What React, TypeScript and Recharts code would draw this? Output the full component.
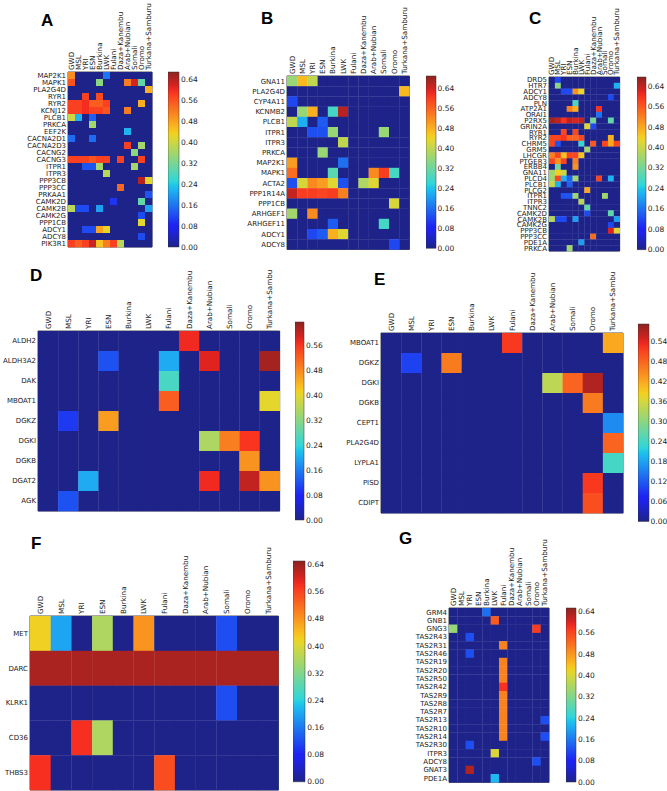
import React from "react";
import { ScatterChart, Scatter, XAxis, YAxis, BarChart, Bar, ReferenceArea } from "recharts";

const populations = ["GWD", "MSL", "YRI", "ESN", "Burkina", "LWK", "Fulani", "Daza+Kanembu", "Arab+Nubian", "Somali", "Oromo", "Turkana+Samburu"];
const populationsShort = ["GWD", "MSL", "YRI", "ESN", "Burkina", "LWK", "Fulani", "Daza+Kanembu", "Arab+Nubian", "Somali", "Oromo", "Turkana+Sambu"];

const aGenes = ["MAP2K1", "MAPK1", "PLA2G4D", "RYR1", "RYR2", "KCNJ12", "PLCB1", "PRKCA", "EEF2K", "CACNA2D1", "CACNA2D3", "CACNG2", "CACNG3", "ITPR1", "ITPR3", "PPP3CB", "PPP3CC", "PRKAA1", "CAMK2D", "CAMK2B", "CAMK2G", "PPP1CB", "ADCY1", "ADCY8", "PIK3R1"];
const aValues = [
  [0.50, 0, 0, 0, 0, 0.16, 0, 0, 0, 0, 0, 0],
  [0.56, 0, 0, 0, 0.34, 0, 0, 0, 0.52, 0.62, 0.30, 0],
  [0, 0, 0, 0, 0, 0, 0, 0, 0, 0, 0, 0.47],
  [0, 0, 0.58, 0, 0.57, 0, 0, 0, 0, 0, 0, 0],
  [0.58, 0.58, 0.60, 0.55, 0.55, 0.58, 0, 0, 0, 0, 0.47, 0],
  [0.58, 0.58, 0.60, 0.58, 0.58, 0.56, 0, 0, 0.52, 0, 0, 0],
  [0.40, 0.22, 0, 0.14, 0, 0, 0, 0, 0, 0, 0, 0],
  [0, 0, 0, 0.36, 0, 0, 0, 0, 0, 0, 0, 0],
  [0, 0, 0, 0, 0, 0, 0, 0, 0.22, 0, 0, 0],
  [0.15, 0, 0, 0.15, 0, 0, 0, 0, 0, 0, 0, 0],
  [0, 0, 0, 0, 0, 0, 0, 0, 0.58, 0, 0.36, 0],
  [0, 0, 0, 0, 0, 0, 0, 0, 0, 0.34, 0, 0],
  [0.58, 0.58, 0.58, 0.56, 0.58, 0.58, 0, 0.58, 0, 0, 0.58, 0],
  [0, 0, 0.13, 0.13, 0.36, 0, 0, 0, 0, 0.36, 0, 0],
  [0, 0, 0, 0, 0, 0.38, 0, 0, 0, 0, 0, 0],
  [0, 0, 0, 0, 0, 0, 0, 0, 0, 0, 0.64, 0.42],
  [0, 0, 0, 0, 0, 0, 0, 0.54, 0, 0, 0, 0],
  [0, 0, 0, 0, 0, 0, 0, 0, 0, 0, 0, 0.13],
  [0, 0, 0, 0, 0, 0, 0.10, 0, 0, 0, 0.30, 0],
  [0.38, 0.12, 0.12, 0, 0.20, 0, 0, 0, 0, 0, 0, 0.20],
  [0, 0, 0, 0, 0, 0, 0, 0, 0, 0, 0.12, 0],
  [0, 0, 0, 0, 0, 0, 0, 0, 0, 0, 0.42, 0],
  [0, 0, 0.12, 0.12, 0.48, 0.43, 0, 0, 0, 0, 0, 0],
  [0, 0, 0, 0, 0, 0, 0, 0, 0, 0, 0.12, 0],
  [0.58, 0.55, 0.58, 0.63, 0.45, 0.52, 0.58, 0.38, 0, 0, 0, 0],
];

const bGenes = ["GNA11", "PLA2G4D", "CYP4A11", "KCNMB2", "PLCB1", "ITPR1", "ITPR3", "PRKCA", "MAP2K1", "MAPK1", "ACTA2", "PPP1R14A", "PPP1CB", "ARHGEF1", "ARHGEF11", "ADCY1", "ADCY8"];
const bValues = [
  [0.36, 0.47, 0.40, 0, 0, 0, 0, 0, 0, 0, 0, 0],
  [0, 0, 0, 0, 0, 0, 0, 0, 0, 0, 0, 0.47],
  [0.12, 0, 0, 0, 0, 0, 0, 0, 0, 0, 0, 0],
  [0, 0.36, 0.48, 0, 0.28, 0.66, 0, 0, 0, 0, 0, 0],
  [0.40, 0.22, 0, 0.14, 0, 0, 0, 0, 0, 0, 0, 0],
  [0, 0, 0.13, 0.13, 0.36, 0, 0, 0, 0, 0.36, 0, 0],
  [0, 0, 0, 0, 0, 0.40, 0, 0, 0, 0, 0, 0],
  [0, 0, 0, 0.36, 0, 0, 0, 0, 0, 0, 0, 0],
  [0.50, 0, 0, 0, 0, 0.16, 0, 0, 0, 0, 0, 0],
  [0.55, 0, 0, 0, 0.30, 0, 0, 0, 0.52, 0.60, 0.28, 0],
  [0.13, 0.42, 0.52, 0.50, 0.43, 0.13, 0, 0.38, 0.43, 0, 0, 0],
  [0.65, 0.60, 0.60, 0.59, 0.60, 0.53, 0, 0, 0, 0, 0, 0],
  [0, 0, 0, 0, 0, 0, 0, 0, 0, 0, 0.42, 0],
  [0.37, 0, 0.52, 0, 0, 0, 0, 0, 0, 0, 0, 0],
  [0, 0, 0, 0, 0.14, 0, 0, 0, 0, 0.28, 0, 0],
  [0, 0, 0.12, 0.14, 0.48, 0.43, 0, 0, 0, 0, 0, 0],
  [0, 0, 0, 0, 0, 0, 0, 0, 0, 0, 0.12, 0],
];

const cGenes = ["DRD5", "HTR7", "ADCY1", "ADCY8", "PLN", "ATP2A1", "ORAI1", "P2RX5", "GRIN2A", "RYR1", "RYR2", "CHRM5", "GRM5", "LHCGR", "PTGER3", "ERBB4", "GNA11", "PLCD4", "PLCB1", "PLCG2", "ITPR1", "ITPR3", "TNNC2", "CAMK2D", "CAMK2B", "CAMK2G", "PPP3CB", "PPP3CC", "PDE1A", "PRKCA"];
const cValues = [
  [0, 0.12, 0, 0, 0, 0, 0, 0, 0, 0, 0, 0],
  [0, 0.34, 0, 0, 0, 0, 0, 0, 0, 0, 0, 0.22],
  [0, 0, 0.12, 0.12, 0.50, 0.43, 0, 0, 0, 0, 0, 0],
  [0, 0, 0, 0, 0, 0, 0, 0, 0, 0, 0.12, 0],
  [0, 0, 0, 0, 0.28, 0, 0, 0, 0, 0, 0, 0],
  [0, 0, 0, 0.52, 0.47, 0, 0, 0, 0.60, 0, 0, 0],
  [0, 0, 0, 0, 0, 0, 0, 0, 0.16, 0, 0, 0],
  [0.66, 0.64, 0.60, 0.64, 0.62, 0.64, 0, 0.32, 0, 0, 0.30, 0],
  [0, 0, 0, 0, 0, 0, 0.42, 0.12, 0, 0, 0, 0],
  [0, 0, 0.58, 0, 0.58, 0, 0, 0, 0, 0, 0, 0],
  [0.58, 0.58, 0.60, 0.55, 0.55, 0.58, 0, 0, 0, 0, 0.47, 0],
  [0.58, 0.13, 0, 0, 0, 0.26, 0, 0.56, 0, 0.58, 0.48, 0.58],
  [0, 0, 0, 0, 0, 0, 0.36, 0, 0, 0, 0, 0],
  [0.52, 0.58, 0.45, 0.58, 0.58, 0.45, 0, 0, 0, 0, 0, 0],
  [0.58, 0.50, 0.58, 0, 0.52, 0, 0, 0, 0, 0, 0, 0],
  [0, 0.32, 0, 0, 0.50, 0, 0, 0, 0, 0, 0, 0],
  [0.36, 0.44, 0.40, 0, 0, 0, 0, 0, 0, 0, 0, 0],
  [0.36, 0.58, 0.22, 0.14, 0.36, 0, 0, 0, 0.58, 0, 0.22, 0],
  [0.40, 0.22, 0, 0.14, 0, 0, 0, 0, 0, 0, 0, 0],
  [0, 0, 0, 0, 0, 0, 0.48, 0, 0, 0, 0, 0],
  [0, 0, 0.13, 0.13, 0.36, 0, 0, 0, 0, 0.36, 0, 0],
  [0, 0, 0, 0, 0, 0.38, 0, 0, 0, 0, 0, 0],
  [0, 0, 0, 0, 0, 0, 0.30, 0, 0, 0, 0, 0],
  [0, 0, 0, 0, 0, 0, 0.12, 0, 0, 0, 0.30, 0],
  [0.38, 0.12, 0.12, 0, 0.20, 0, 0, 0, 0, 0, 0, 0.20],
  [0, 0, 0, 0, 0, 0, 0, 0, 0, 0, 0.12, 0],
  [0, 0, 0, 0, 0, 0, 0, 0, 0, 0, 0.62, 0.42],
  [0, 0, 0, 0, 0, 0, 0, 0.54, 0, 0, 0, 0],
  [0, 0, 0, 0, 0, 0.20, 0, 0, 0, 0, 0, 0],
  [0, 0, 0, 0.36, 0, 0, 0, 0, 0, 0, 0, 0],
];

const dGenes = ["ALDH2", "ALDH3A2", "DAK", "MBOAT1", "DGKZ", "DGKI", "DGKB", "DGAT2", "AGK"];
const dValues = [
  [0, 0, 0, 0, 0, 0, 0, 0.57, 0, 0, 0, 0],
  [0, 0, 0, 0.12, 0, 0, 0.20, 0, 0.58, 0, 0, 0.62],
  [0, 0, 0, 0, 0, 0, 0.26, 0, 0, 0, 0, 0],
  [0, 0, 0, 0, 0, 0, 0.52, 0, 0, 0, 0, 0.40],
  [0, 0.10, 0, 0.46, 0, 0, 0, 0, 0, 0, 0, 0],
  [0, 0, 0, 0, 0, 0, 0, 0, 0.35, 0.49, 0.56, 0],
  [0, 0, 0, 0, 0, 0, 0, 0, 0, 0, 0.47, 0],
  [0, 0, 0.20, 0, 0, 0, 0, 0, 0.57, 0, 0.60, 0.47],
  [0, 0.12, 0, 0, 0, 0, 0, 0, 0, 0, 0, 0],
];

const eGenes = ["MBOAT1", "DGKZ", "DGKI", "DGKB", "CEPT1", "PLA2G4D", "LYPLA1", "PISD", "CDIPT"];
const eValues = [
  [0, 0, 0, 0, 0, 0, 0.52, 0, 0, 0, 0, 0.42],
  [0, 0.10, 0, 0.46, 0, 0, 0, 0, 0, 0, 0, 0],
  [0, 0, 0, 0, 0, 0, 0, 0, 0.34, 0.48, 0.57, 0],
  [0, 0, 0, 0, 0, 0, 0, 0, 0, 0, 0.46, 0],
  [0, 0, 0, 0, 0, 0, 0, 0, 0, 0, 0, 0.16],
  [0, 0, 0, 0, 0, 0, 0, 0, 0, 0, 0, 0.48],
  [0, 0, 0, 0, 0, 0, 0, 0, 0, 0, 0, 0.24],
  [0, 0, 0, 0, 0, 0, 0, 0, 0, 0, 0.52, 0],
  [0, 0, 0, 0, 0, 0, 0, 0, 0, 0, 0.50, 0],
];

const fGenes = ["MET", "DARC", "KLRK1", "CD36", "THBS3"];
const fValues = [
  [0.42, 0.20, 0, 0.36, 0, 0.48, 0, 0, 0, 0.12, 0, 0],
  [0.63, 0.63, 0.63, 0.63, 0.63, 0.63, 0.63, 0.63, 0.63, 0.63, 0.63, 0.63],
  [0, 0, 0, 0, 0, 0, 0, 0, 0, 0.12, 0, 0],
  [0, 0, 0.58, 0.36, 0, 0, 0, 0, 0, 0, 0, 0],
  [0.58, 0, 0, 0, 0, 0, 0.55, 0, 0, 0, 0, 0],
];

const gGenes = ["GRM4", "GNB1", "GNG3", "TAS2R43", "TAS2R31", "TAS2R46", "TAS2R19", "TAS2R20", "TAS2R50", "TAS2R42", "TAS2R9", "TAS2R8", "TAS2R7", "TAS2R13", "TAS2R10", "TAS2R14", "TAS2R30", "ITPR3", "ADCY8", "GNAT3", "PDE1A"];
const gValues = [
  [0, 0, 0, 0, 0.15, 0, 0, 0, 0, 0, 0, 0],
  [0, 0, 0, 0, 0, 0.54, 0, 0, 0, 0, 0, 0],
  [0.34, 0, 0, 0, 0, 0, 0, 0, 0, 0, 0.57, 0],
  [0, 0, 0.12, 0, 0, 0, 0, 0, 0, 0, 0, 0],
  [0, 0, 0, 0, 0, 0, 0.50, 0, 0, 0, 0, 0],
  [0, 0, 0.12, 0, 0, 0, 0, 0, 0, 0, 0, 0],
  [0, 0, 0, 0, 0, 0, 0.50, 0, 0, 0, 0, 0],
  [0, 0, 0, 0, 0, 0, 0.50, 0, 0, 0, 0, 0],
  [0, 0, 0, 0, 0, 0, 0.50, 0, 0, 0, 0, 0],
  [0, 0, 0, 0, 0, 0, 0.58, 0, 0, 0, 0, 0],
  [0, 0, 0, 0, 0, 0, 0.50, 0, 0, 0, 0, 0],
  [0, 0, 0, 0, 0, 0, 0.50, 0, 0, 0, 0, 0],
  [0, 0, 0, 0, 0, 0, 0.50, 0, 0, 0, 0, 0],
  [0, 0, 0, 0, 0, 0, 0.50, 0, 0, 0, 0, 0.12],
  [0, 0, 0, 0, 0, 0, 0.50, 0, 0, 0, 0, 0],
  [0, 0, 0, 0, 0, 0, 0.50, 0, 0, 0, 0, 0.12],
  [0, 0, 0.12, 0, 0, 0, 0, 0, 0, 0, 0, 0],
  [0, 0, 0, 0, 0, 0.40, 0, 0, 0, 0, 0, 0],
  [0, 0, 0, 0, 0, 0, 0, 0, 0, 0, 0.12, 0],
  [0, 0, 0.63, 0, 0, 0, 0, 0, 0, 0, 0, 0],
  [0, 0, 0, 0, 0, 0.22, 0, 0, 0, 0, 0, 0],
];

// colour bar ranges and tick labels
const aMax = 0.67, bMax = 0.689, cMax = 0.675, dMax = 0.634, eMax = 0.592, fMax = 0.65, gMax = 0.653;
const ticks064 = [0, 0.08, 0.16, 0.24, 0.32, 0.4, 0.48, 0.56, 0.64];
const ticks056 = [0, 0.08, 0.16, 0.24, 0.32, 0.4, 0.48, 0.56];
const ticks054 = [0, 0.06, 0.12, 0.18, 0.24, 0.3, 0.36, 0.42, 0.48, 0.54];

const FONT = "'DejaVu Sans', sans-serif";
const INK = "#222";

// matplotlib "jet" segments
const JET_R = [[0, 0], [0.35, 0], [0.66, 1], [0.89, 1], [1, 0.5]];
const JET_G = [[0, 0], [0.125, 0], [0.375, 1], [0.64, 1], [0.91, 0], [1, 0]];
const JET_B = [[0, 0.5], [0.11, 1], [0.34, 1], [0.65, 0], [1, 0]];

function seg(t: number, pts: number[][]) {
  for (let i = 1; i < pts.length; i++) {
    if (t <= pts[i][0]) {
      const [x0, y0] = pts[i - 1];
      const [x1, y1] = pts[i];
      return y0 + ((t - x0) / (x1 - x0)) * (y1 - y0);
    }
  }
  return pts[pts.length - 1][1];
}

// slightly muted, like the printed figure
function jet(t: number) {
  const tt = Math.max(0, Math.min(1, t));
  const r = Math.round(30 + 0.86 * 255 * seg(tt, JET_R));
  const g = Math.round(35 + 0.7 * 255 * seg(tt, JET_G));
  const b = Math.round(32 + 0.82 * 255 * seg(tt, JET_B));
  return `rgb(${r},${g},${b})`;
}

const gradientSteps = Array.from({ length: 41 }, (_, i) => i / 40);

type HeatProps = {
  x: number;
  y: number;
  cw: number;
  ch: number;
  genes: string[];
  cols: string[];
  values: number[][];
  vmax: number;
  labelW: number;
  rowFont?: number;
  colFont?: number;
};

function Heatmap({ x, y, cw, ch, genes, cols, values, vmax, labelW, rowFont = 7, colFont = 7.2 }: HeatProps) {
  const labelH = 80;
  const pw = cols.length * cw;
  const ph = genes.length * ch;
  const data = values.flatMap((row, r) => row.map((v, c) => ({ c, r, v })));
  return (
    <div style={{ position: "absolute", left: x - labelW, top: y - labelH }}>
      <ScatterChart
        width={labelW + pw + 2}
        height={labelH + ph + 2}
        margin={{ top: 0, right: 2, bottom: 2, left: 0 }}
      >
        <XAxis
          type="number"
          dataKey="c"
          domain={[-0.5, cols.length - 0.5]}
          ticks={cols.map((_, i) => i)}
          orientation="top"
          height={labelH}
          interval={0}
          axisLine={false}
          tickLine={false}
          tick={(p: any) => (
            <text
              transform={`translate(${p.x},${labelH - 2}) rotate(-90)`}
              dy="0.35em"
              fontSize={colFont}
              fill={INK}
              fontFamily={FONT}
            >
              {cols[p.payload.value]}
            </text>
          )}
        />
        <YAxis
          type="number"
          dataKey="r"
          domain={[-0.5, genes.length - 0.5]}
          reversed
          ticks={genes.map((_, i) => i)}
          width={labelW}
          interval={0}
          axisLine={false}
          tickLine={false}
          tick={(p: any) => (
            <text
              x={labelW - 2}
              y={p.y}
              dy="0.35em"
              textAnchor="end"
              fontSize={rowFont}
              fill={INK}
              fontFamily={FONT}
            >
              {genes[p.payload.value]}
            </text>
          )}
        />
        <Scatter
          data={data}
          isAnimationActive={false}
          shape={(p: any) => (
            <rect
              x={p.cx - cw / 2}
              y={p.cy - ch / 2}
              width={cw + 0.3}
              height={ch + 0.3}
              fill={jet(p.payload.v / vmax)}
            />
          )}
        />
        <ReferenceArea
          x1={-0.5}
          x2={cols.length - 0.5}
          y1={-0.5}
          y2={genes.length - 0.5}
          fill="none"
          fillOpacity={0}
          stroke="#222"
          strokeWidth={0.8}
          ifOverflow="visible"
        />
      </ScatterChart>
    </div>
  );
}

function ColorBar({ id, x, y, w, h, vmax, ticks }: { id: string; x: number; y: number; w: number; h: number; vmax: number; ticks: number[] }) {
  const pad = 6;
  return (
    <div style={{ position: "absolute", left: x, top: y - pad }}>
      <BarChart
        width={w + 34}
        height={h + 2 * pad}
        data={[{ k: "cb", v: vmax }]}
        margin={{ top: pad, right: 0, bottom: pad, left: 0 }}
        barCategoryGap={0}
      >
        <defs>
          <linearGradient id={id} x1="0" y1="1" x2="0" y2="0">
            {gradientSteps.map((t) => (
              <stop key={t} offset={t} stopColor={jet(t)} />
            ))}
          </linearGradient>
        </defs>
        <XAxis dataKey="k" hide />
        <YAxis
          type="number"
          orientation="right"
          width={34}
          domain={[0, vmax]}
          ticks={ticks}
          interval={0}
          axisLine={false}
          tickLine={false}
          tickSize={0}
          tickMargin={2}
          tick={{ fontSize: 7.5, fill: INK, fontFamily: FONT }}
          tickFormatter={(t: number) => t.toFixed(2)}
        />
        <Bar dataKey="v" fill={`url(#${id})`} stroke="#333" strokeWidth={0.5} isAnimationActive={false} />
      </BarChart>
    </div>
  );
}

function PanelLetter({ x, y, children }: { x: number; y: number; children: string }) {
  return (
    <div
      style={{
        position: "absolute",
        left: x,
        top: y,
        fontFamily: "'Liberation Sans', Arial, sans-serif",
        fontWeight: "bold",
        fontSize: 17,
        lineHeight: "17px",
        color: "#000",
      }}
    >
      {children}
    </div>
  );
}

export default function App() {
  return (
    <div
      style={{
        position: "absolute",
        left: 0,
        top: 0,
        width: 667,
        height: 791,
        background: "#fff",
        overflow: "hidden",
        fontFamily: FONT,
      }}
    >
      <PanelLetter x={41} y={12}>A</PanelLetter>
      <PanelLetter x={261} y={10}>B</PanelLetter>
      <PanelLetter x={529} y={10}>C</PanelLetter>
      <PanelLetter x={30} y={267}>D</PanelLetter>
      <PanelLetter x={374} y={271}>E</PanelLetter>
      <PanelLetter x={31} y={535}>F</PanelLetter>
      <PanelLetter x={399} y={530}>G</PanelLetter>

      <Heatmap x={68.3} y={72} cw={7} ch={7} genes={aGenes} cols={populations} values={aValues} vmax={aMax} labelW={60} />
      <ColorBar id="cbA" x={168} y={72} w={11} h={175} vmax={aMax} ticks={ticks064} />

      <Heatmap x={286.7} y={76} cw={10.2} ch={10.2} genes={bGenes} cols={populations} values={bValues} vmax={bMax} labelW={60} />
      <ColorBar id="cbB" x={425.7} y={76} w={9.5} h={172.3} vmax={bMax} ticks={ticks064} />

      <Heatmap x={549.3} y={77.3} cw={5.89} ch={5.8} genes={cGenes} cols={populations} values={cValues} vmax={cMax} labelW={50} />
      <ColorBar id="cbC" x={637.3} y={77.3} w={8.7} h={172.7} vmax={cMax} ticks={ticks064} />

      <Heatmap x={38.3} y={330.7} cw={20.14} ch={20} genes={dGenes} cols={populationsShort} values={dValues} vmax={dMax} labelW={38} />
      <ColorBar id="cbD" x={295} y={322} w={9} h={198} vmax={dMax} ticks={ticks056} />

      <Heatmap x={380.7} y={332.7} cw={20.17} ch={20} genes={eGenes} cols={populationsShort} values={eValues} vmax={eMax} labelW={60} />
      <ColorBar id="cbE" x={637.7} y={324.3} w={10.6} h={197.4} vmax={eMax} ticks={ticks054} />

      <Heatmap x={30} y={616} cw={20.7} ch={34.8} genes={fGenes} cols={populations} values={fValues} vmax={fMax} labelW={30} />
      <ColorBar id="cbF" x={292.7} y={560.7} w={12.3} h={220.8} vmax={fMax} ticks={ticks064} />

      <Heatmap x={449.3} y={608.3} cw={8.33} ch={8.3} genes={gGenes} cols={populations} values={gValues} vmax={gMax} labelW={60} />
      <ColorBar id="cbG" x={565.7} y={608.3} w={10} h={174} vmax={gMax} ticks={ticks064} />
    </div>
  );
}
